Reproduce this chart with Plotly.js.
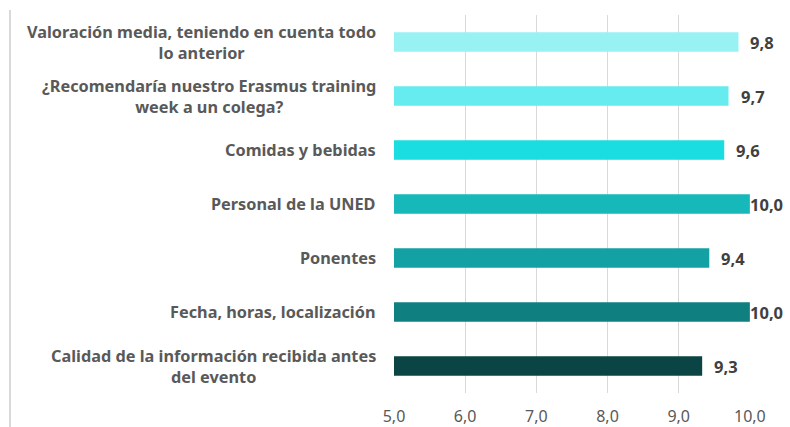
<!DOCTYPE html>
<html>
<head>
<meta charset="utf-8">
<script src="https://cdn.plot.ly/plotly-3.0.1.min.js"></script>
<style>
  html, body { margin: 0; padding: 0; background: #fff; }
  #wrap { position: relative; width: 790px; height: 427px; }
  #edge { position: absolute; left: 9px; top: 10px; bottom: 0; border-left: 2px solid #d9d9d9; }
  #chart { width: 790px; height: 427px; }
</style>
</head>
<body>
<div id="wrap">
  <div id="chart"></div>
  <div id="edge"></div>
</div>
<script>
// Rating per item, listed top to bottom as in the chart
const categories = [
  "Valoración media, teniendo en cuenta todo<br>lo anterior",
  "¿Recomendaría nuestro Erasmus training<br>week a un colega?",
  "Comidas y bebidas",
  "Personal de la UNED",
  "Ponentes",
  "Fecha, horas, localización",
  "Calidad de la información recibida antes<br>del evento",
];
const scores = [9.84, 9.70, 9.64, 10.0, 9.43, 10.0, 9.33];
const barColors = ["#98f2f4", "#66ecef", "#19dde0", "#16b8ba", "#13a1a3", "#0f7f80", "#0a4445"];
const xTicks = [5, 6, 7, 8, 9, 10];

const LABEL_FONT = "Noto Sans, Open Sans, sans-serif";

// value labels at the bar ends; 10,0 sits right at the end like the original
const valueLabels = scores.map((v, i) => ({
  x: v, y: categories[i], xref: "x", yref: "y",
  text: v.toFixed(1).replace(".", ","),
  showarrow: false, xanchor: "left",
  xshift: v >= 10 ? -2 : 10,
  font: { family: LABEL_FONT, size: 16.5, color: "#404040", weight: "bold" },
}));

// category labels as annotations so wrapped lines can be centred
const catLabels = categories.map((c) => ({
  x: 0, y: c, xref: "paper", yref: "y",
  text: c, align: "center",
  showarrow: false, xanchor: "right", xshift: -16,
  font: { family: LABEL_FONT, size: 16.3, color: "#595959", weight: "bold" },
}));

const trace = {
  type: "bar", orientation: "h",
  x: scores, y: categories,
  marker: { color: barColors },
  width: 0.36,
  hoverinfo: "skip",
};

const layout = {
  width: 790, height: 427,
  paper_bgcolor: "#fff", plot_bgcolor: "#fff",
  margin: { t: 15, r: 40, b: 34, l: 394 },
  showlegend: false,
  separators: ",.",
  font: { family: LABEL_FONT, color: "#595959" },
  xaxis: {
    range: [5, 10.002], tickvals: xTicks, tickformat: ".1f",
    showgrid: true, gridcolor: "#d9d9d9", gridwidth: 1,
    zeroline: false, showline: false,
    ticks: "outside", ticklen: 9, tickcolor: "rgba(0,0,0,0)",
    tickfont: { size: 16, color: "#595959" },
    fixedrange: true,
  },
  yaxis: {
    autorange: "reversed", showgrid: false, zeroline: false, showline: false,
    showticklabels: false, ticks: "",
    fixedrange: true,
  },
  annotations: [...catLabels, ...valueLabels],
};

Plotly.newPlot("chart", [trace], layout, { displayModeBar: false, staticPlot: true });
</script>
</body>
</html>
